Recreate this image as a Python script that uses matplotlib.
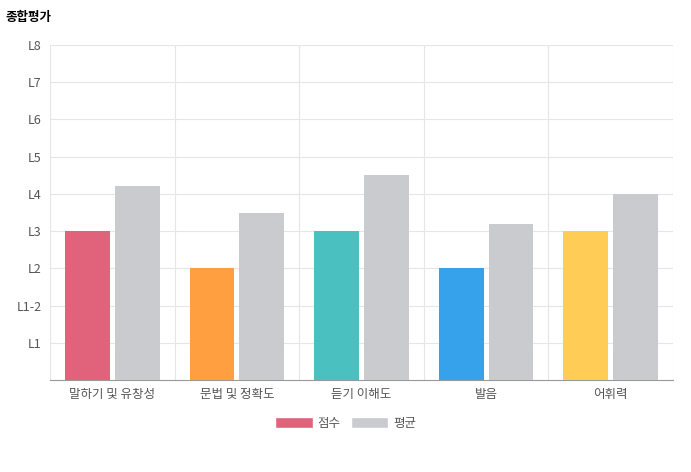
import numpy as np
import matplotlib.pyplot as plt
from matplotlib.patches import Patch

plt.rcParams['font.family'] = ['Noto Sans CJK KR', 'DejaVu Sans']

# Data
categories = ['말하기 및 유창성', '문법 및 정확도', '듣기 이해도', '발음', '어휘력']
scores = [4, 3, 4, 3, 4]
averages = [5.2, 4.5, 5.5, 4.2, 5.0]
score_colors = ['#e0627b', '#ff9f40', '#4bc0c0', '#36a2eb', '#ffcd56']
avg_color = '#c9cbcf'
ytick_vals = [1, 2, 3, 4, 5, 6, 7, 8, 9]
ytick_labels = ['L1', 'L1-2', 'L2', 'L3', 'L4', 'L5', 'L6', 'L7', 'L8']

fig = plt.figure(figsize=(6.91, 4.72), dpi=100)
ax = fig.add_axes([50/691, 1-380/472, 623/691, 335/472])

x = np.arange(len(categories))
ax.bar(x - 0.2, scores, width=0.36, color=score_colors, zorder=3)
ax.bar(x + 0.2, averages, width=0.36, color=avg_color, zorder=3)

ax.set_xlim(-0.5, len(categories) - 0.5)
ax.set_ylim(0, 9)
ax.set_yticks(ytick_vals)
ax.set_yticklabels(ytick_labels)
ax.set_xticks(x)
ax.set_xticklabels(categories)
ax.tick_params(axis='both', length=0, labelsize=9, colors='#555555', pad=6)

ax.grid(axis='y', color='#e6e6e6', linewidth=0.8, zorder=0)
for b in np.arange(-0.5, len(categories)):
    ax.axvline(b, color='#e6e6e6', linewidth=0.8, zorder=0)
for s in ['top', 'right', 'left']:
    ax.spines[s].set_visible(False)
ax.spines['bottom'].set_color('#999999')

fig.text(5/691, 1-18/472, '종합평가', fontsize=9, fontweight='bold', va='center')

handles = [Patch(facecolor=score_colors[0], edgecolor='white'),
           Patch(facecolor=avg_color, edgecolor='white')]
fig.legend(handles, ['점수', '평균'], loc='center', bbox_to_anchor=(0.5, 1-423/472),
           ncol=2, frameon=False, fontsize=9, handlelength=3, handleheight=1,
           columnspacing=0.8, handletextpad=0.4, labelcolor='#555555')

fig.savefig('out.png', dpi=100)
